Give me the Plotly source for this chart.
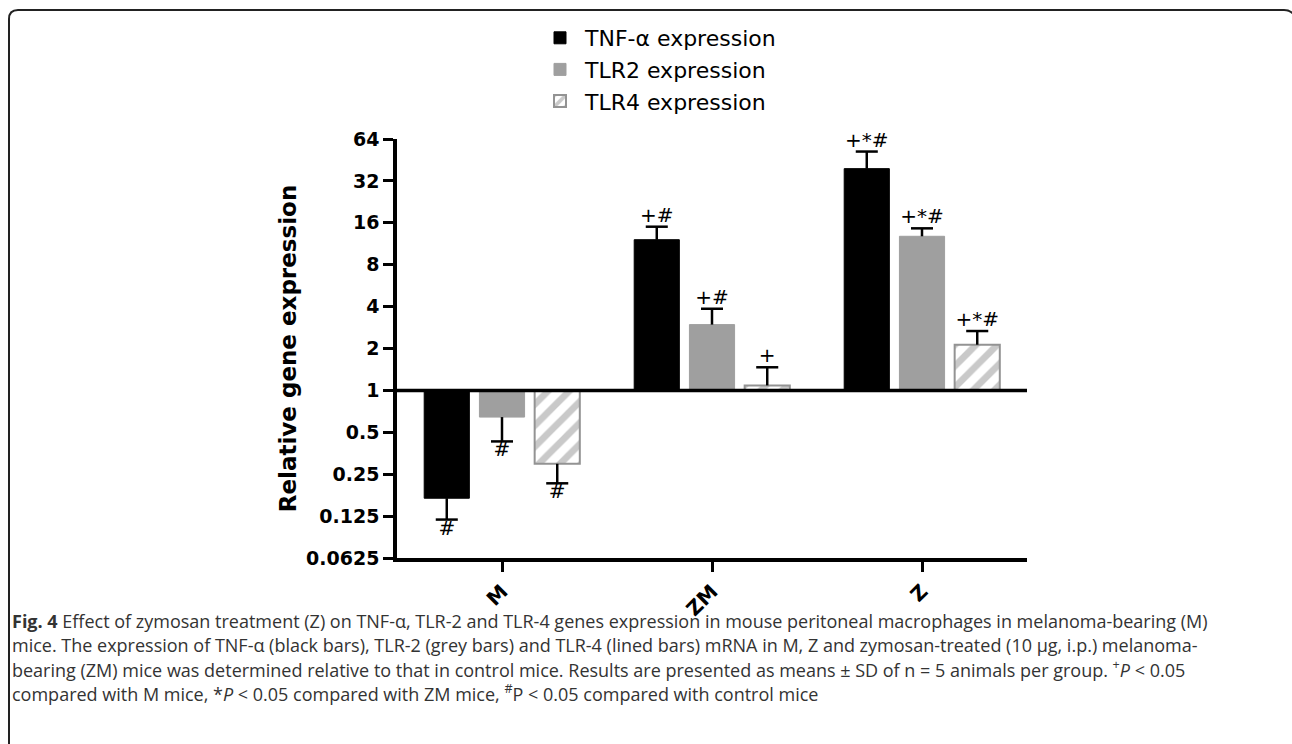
import math
import plotly.graph_objects as go

# ---------------- data ----------------
categories = ["M", "ZM", "Z"]
series_names = ["TNF-α expression", "TLR2 expression", "TLR4 expression"]
tnf_mean = [0.168, 12.1, 39.2]
tnf_sd = [0.050, 2.9, 12.8]
tlr2_mean = [0.643, 2.97, 12.8]
tlr2_sd = [0.213, 0.89, 1.8]
tlr4_mean = [0.297, 1.086, 2.13]
tlr4_sd = [0.082, 0.38, 0.54]
tnf_sig = ["#", "+#", "+*#"]
tlr2_sig = ["#", "+#", "+*#"]
tlr4_sig = ["#", "+", "+*#"]
y_ticks = [0.0625, 0.125, 0.25, 0.5, 1, 2, 4, 8, 16, 32, 64]
y_ticktext = ["0.0625", "0.125", "0.25", "0.5", "1", "2", "4", "8", "16", "32", "64"]

caption_lines = [
    "<b>Fig. 4</b> Effect of zymosan treatment (Z) on TNF-α, TLR-2 and TLR-4 genes expression in mouse peritoneal macrophages in melanoma-bearing (M)",
    "mice. The expression of TNF-α (black bars), TLR-2 (grey bars) and TLR-4 (lined bars) mRNA in M, Z and zymosan-treated (10 µg, i.p.) melanoma-",
    "bearing (ZM) mice was determined relative to that in control mice. Results are presented as means ± SD of n = 5 animals per group. <sup>+</sup><i>P</i> < 0.05",
    "compared with M mice, *<i>P</i> < 0.05 compared with ZM mice, <sup>#</sup>P < 0.05 compared with control mice",
]

# ---------------- layout constants ----------------
W, H = 1292, 744
L, R, T, B = 397, 1027, 139, 558
FONT = "DejaVu Sans"
offsets = [-0.263, 0.0, 0.263]
bar_w = 0.215
cap_w = 0.105


def px_x(p):
    return (p - L) / (R - L)


def px_y(p):
    return (B - p) / (B - T)


fig = go.Figure()

styles = [
    dict(color="black", line=dict(color="black", width=1)),
    dict(color="#9f9f9f", line=dict(color="#9f9f9f", width=1)),
    dict(color="white", line=dict(color="#939393", width=2),
         pattern=dict(shape="/", fgcolor="#939393", bgcolor="white", size=15, solidity=0.45)),
]

all_series = [(tnf_mean, tnf_sd, tnf_sig), (tlr2_mean, tlr2_sd, tlr2_sig), (tlr4_mean, tlr4_sd, tlr4_sig)]
xidx = list(range(len(categories)))

for k, (means, sds, sigs) in enumerate(all_series):
    xs = [i + offsets[k] for i in xidx]
    fig.add_trace(go.Bar(
        x=xs, y=[m - 1 for m in means], base=[1] * len(means), width=bar_w,
        marker=styles[k], name=series_names[k], legendgroup=str(k),
        showlegend=True,
    ))

for k, (means, sds, sigs) in enumerate(all_series):
    xs = [i + offsets[k] for i in xidx]
    ex, ey = [], []
    tx, ty, tpos = [], [], []
    for x, m, s in zip(xs, means, sds):
        tip = m + s if m >= 1 else m - s
        ex += [x, x, None, x - cap_w / 2, x + cap_w / 2, None]
        ey += [m, tip, None, tip, tip, None]
        tx.append(x)
        ty.append(tip)
        tpos.append("top center" if m >= 1 else "bottom center")
    fig.add_trace(go.Scatter(x=ex, y=ey, mode="lines", line=dict(color="black", width=2.5),
                             showlegend=False, hoverinfo="skip", cliponaxis=False))
    fig.add_trace(go.Scatter(x=tx, y=ty, mode="text", text=sigs, textposition=tpos,
                             textfont=dict(family=FONT, size=20, color="black"),
                             showlegend=False, hoverinfo="skip", cliponaxis=False))

# baseline at 1
fig.add_shape(type="line", xref="paper", yref="y", x0=0, x1=1, y0=1, y1=1,
              line=dict(color="black", width=3.5))

# frame
fx0, fy0, fr = 9, 10, 9
path = (f"M {px_x(fx0)},{px_y(744)} L {px_x(fx0)},{px_y(fy0 + fr)} "
        f"Q {px_x(fx0)},{px_y(fy0)} {px_x(fx0 + fr)},{px_y(fy0)} "
        f"L {px_x(1284)},{px_y(fy0)} Q {px_x(1292)},{px_y(fy0)} {px_x(1296)},{px_y(fy0 + 8)}")
fig.add_shape(type="path", xref="paper", yref="paper", path=path,
              line=dict(color="#222222", width=2))

# caption
cap_y = [621, 645, 669, 693]
for line, yp in zip(caption_lines, cap_y):
    fig.add_annotation(text=line, xref="paper", yref="paper", x=px_x(10), y=px_y(yp),
                       xanchor="left", yanchor="middle", showarrow=False,
                       font=dict(family="Open Sans", size=18, color="#333333"))

fig.update_layout(
    width=W, height=H,
    margin=dict(l=L, r=W - R, t=T, b=H - B, pad=0),
    plot_bgcolor="white", paper_bgcolor="white",
    barmode="overlay",
    showlegend=True,
    legend=dict(x=px_x(535), y=px_y(17), xanchor="left", yanchor="top",
                font=dict(family=FONT, size=22, color="black"),
                traceorder="grouped", tracegroupgap=0, itemwidth=40,
                bgcolor="rgba(0,0,0,0)"),
    xaxis=dict(range=[-0.5, 2.5], tickvals=xidx, ticktext=categories,
               tickangle=-45, ticks="outside", ticklen=10, tickwidth=3, tickcolor="black",
               showline=True, linecolor="black", linewidth=3.5, showgrid=False, zeroline=False,
               tickfont=dict(family=FONT, size=20, color="black", weight="bold")),
    yaxis=dict(type="log", range=[math.log10(y_ticks[0]), math.log10(y_ticks[-1])],
               tickvals=y_ticks, ticktext=y_ticktext,
               ticks="outside", ticklen=10, tickwidth=3, tickcolor="black",
               showline=True, linecolor="black", linewidth=3.5, showgrid=False, zeroline=False,
               tickfont=dict(family=FONT, size=19, color="black", weight="bold"),
               title=dict(text="Relative gene expression", standoff=4,
                          font=dict(family=FONT, size=23, color="black", weight="bold"))),
)

fig.write_html("out.html", config={"displayModeBar": False},
               post_script="document.body.style.margin='0';")
